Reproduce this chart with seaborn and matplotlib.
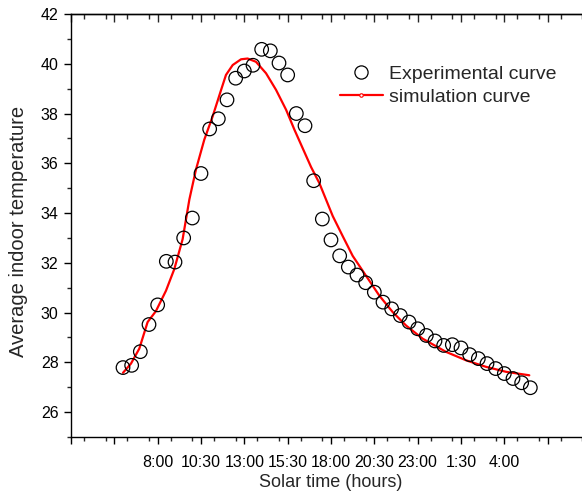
import matplotlib
matplotlib.use("Agg")
import matplotlib.pyplot as plt
import seaborn as sns
import pandas as pd
from matplotlib.lines import Line2D
from matplotlib.ticker import MultipleLocator, FixedLocator

# ---- data (hours since midnight of day 1) ----
exp_time = [6.0, 6.5, 7.0, 7.5, 8.0, 8.5, 9.0, 9.5, 10.0, 10.5, 11.0, 11.5,
            12.0, 12.5, 13.0, 13.5, 14.0, 14.5, 15.0, 15.5, 16.0, 16.5, 17.0, 17.5,
            18.0, 18.5, 19.0, 19.5, 20.0, 20.5, 21.0, 21.5, 22.0, 22.5, 23.0, 23.5,
            24.0, 24.5, 25.0, 25.5, 26.0, 26.5, 27.0, 27.5, 28.0, 28.5, 29.0, 29.5]
exp_temp = [27.79, 27.88, 28.43, 29.52, 30.31, 32.06, 32.03, 33.00, 33.80, 35.59, 37.38, 37.79,
            38.55, 39.42, 39.71, 39.94, 40.58, 40.52, 40.03, 39.55, 38.00, 37.51, 35.30, 33.76,
            32.92, 32.28, 31.83, 31.51, 31.20, 30.82, 30.42, 30.15, 29.88, 29.62, 29.35, 29.08,
            28.86, 28.68, 28.71, 28.58, 28.31, 28.15, 27.95, 27.75, 27.55, 27.35, 27.18, 26.98]

sim_time = [6.0, 6.46, 6.94, 7.42, 7.9, 8.48, 8.96, 9.44, 9.83, 10.21, 10.69, 11.17,
            11.66, 11.94, 12.33, 12.81, 13.19, 13.67, 14.25, 14.83, 15.41, 15.89, 16.37, 16.85,
            17.33, 18.1, 18.67, 19.25, 20.02, 20.79, 21.56, 22.33, 23.29, 24.64, 25.8, 26.94,
            28.1, 29.44]
sim_temp = [27.58, 27.95, 28.55, 29.62, 30.06, 30.88, 31.75, 32.95, 34.55, 35.75, 36.95, 37.88,
            38.95, 39.55, 39.95, 40.18, 40.21, 40.08, 39.62, 38.95, 38.15, 37.35, 36.6, 35.85,
            35.2, 33.88, 33.08, 32.28, 31.48, 30.68, 30.02, 29.48, 28.95, 28.42, 28.08, 27.82,
            27.62, 27.48]

tick_pos = [3.0, 5.5, 8.0, 10.5, 13.0, 15.5, 18.0, 20.5, 23.0, 25.5, 28.0, 30.5, 33.0]
tick_lab = ["", "", "8:00", "10:30", "13:00", "15:30", "18:00", "20:30", "23:00", "1:30", "4:00", "", ""]
y_ticks = [26, 28, 30, 32, 34, 36, 38, 40, 42]

exp_df = pd.DataFrame({"time": exp_time, "temp": exp_temp})
sim_df = pd.DataFrame({"time": sim_time, "temp": sim_temp})

sns.set_style("ticks")
plt.rcParams["font.family"] = ["Liberation Sans", "DejaVu Sans"]

fig = plt.figure(figsize=(5.82, 4.97), dpi=100)
ax = fig.add_axes([71 / 582, 60 / 497, (591 - 71) / 582, (483 - 60) / 497])

sns.lineplot(data=sim_df, x="time", y="temp", ax=ax, color="#ff0000", lw=1.6,
             estimator=None, sort=False, zorder=2)
sns.scatterplot(data=exp_df, x="time", y="temp", ax=ax, s=95, facecolor="none",
                edgecolor="black", linewidth=0.9, zorder=3)

ax.set_xlim(3, 33)
ax.set_ylim(25, 42)
ax.xaxis.set_major_locator(FixedLocator(tick_pos))
ax.set_xticklabels(tick_lab)
ax.xaxis.set_minor_locator(MultipleLocator(1.25))
ax.yaxis.set_major_locator(FixedLocator(y_ticks))
ax.yaxis.set_minor_locator(MultipleLocator(1))

for s in ax.spines.values():
    s.set_linewidth(1.0)
    s.set_color("black")

ax.tick_params(axis="both", which="major", direction="out", length=5, width=1.0,
               labelsize=11.5, colors="black")
ax.tick_params(axis="both", which="minor", direction="out", length=3, width=1.0)
ax.tick_params(axis="x", which="major", pad=8)
ax.tick_params(axis="y", which="major", pad=4)

# top ticks pointing inward
top = ax.secondary_xaxis("top")
top.xaxis.set_major_locator(FixedLocator(tick_pos))
top.xaxis.set_minor_locator(MultipleLocator(1.25))
top.tick_params(which="major", direction="in", length=6, width=1.0, labeltop=False)
top.tick_params(which="minor", direction="in", length=3.5, width=1.0)
top.spines["top"].set_linewidth(1.0)

ax.set_xlabel("Solar time (hours)", fontsize=13, labelpad=3)
ax.set_ylabel("Average indoor temperature", fontsize=14.5)
ax.yaxis.set_label_coords(-0.083, 0.485)

handles = [
    Line2D([], [], ls="none", marker="o", markersize=9.5, markerfacecolor="none",
           markeredgecolor="black", markeredgewidth=0.9),
    Line2D([], [], color="#ff0000", lw=1.6, marker="o", markersize=2.5,
           markerfacecolor="white", markeredgecolor="#ff0000", markeredgewidth=0.8),
]
ax.legend(handles, ["Experimental curve", "simulation curve"], frameon=False,
          fontsize=14, loc="upper left", bbox_to_anchor=(340 / 582, 1 - 65 / 497),
          bbox_transform=fig.transFigure, handlelength=2.2, handletextpad=0.3,
          labelspacing=0.28, borderpad=0, borderaxespad=0)

fig.savefig("out.png", dpi=100)
